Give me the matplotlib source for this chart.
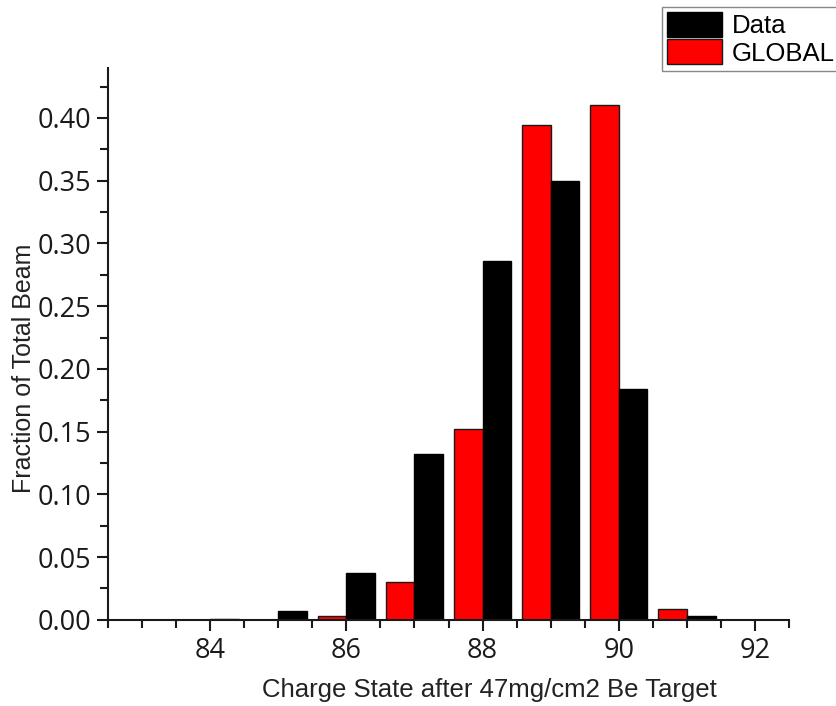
import matplotlib.pyplot as plt
from matplotlib.ticker import MultipleLocator, FormatStrFormatter

# --- datos ---
charge = [84, 85, 86, 87, 88, 89, 90, 91]
data_frac = [0.001, 0.007, 0.037, 0.132, 0.286, 0.350, 0.184, 0.003]
global_frac = [0.0, 0.0, 0.003, 0.030, 0.152, 0.394, 0.410, 0.009]

W = 0.42

fig = plt.figure(figsize=(8.36, 7.06), dpi=100)
ax = fig.add_axes([0.129, 0.122, 0.815, 0.782])

# rojo a la izquierda del entero, negro a la derecha
ax.bar(charge, global_frac, width=-W, align='edge', color='#ff0000',
       edgecolor='#1a1a1a', linewidth=1, label='GLOBAL')
ax.bar(charge, data_frac, width=W, align='edge', color='black',
       edgecolor='black', linewidth=1, label='Data')

ax.set_xlim(82.5, 92.5)
ax.set_ylim(0, 0.44)

ax.xaxis.set_major_locator(MultipleLocator(2))
ax.xaxis.set_minor_locator(MultipleLocator(0.5))
ax.yaxis.set_major_locator(MultipleLocator(0.05))
ax.yaxis.set_minor_locator(MultipleLocator(0.025))
ax.yaxis.set_major_formatter(FormatStrFormatter('%.2f'))

for s in ['top', 'right']:
    ax.spines[s].set_visible(False)
for s in ['left', 'bottom']:
    ax.spines[s].set_linewidth(1.5)
    ax.spines[s].set_color('#1a1a1a')

ax.tick_params(which='major', direction='out', length=8, width=1.5,
               labelsize=19.5, pad=4, colors='#1a1a1a')
ax.tick_params(which='minor', direction='out', length=6, width=1.5,
               colors='#1a1a1a')
for lab in ax.get_xticklabels() + ax.get_yticklabels():
    lab.set_family('Open Sans')

lab_font = dict(family='Liberation Sans', size=18, color='#222222')
fig.text(0.029, 0.478, 'Fraction of Total Beam', rotation=90,
         ha='center', va='center', **lab_font)
lab_font['size'] = 18.5
fig.text(0.585, 0.023, 'Charge State after 47mg/cm2 Be Target',
         ha='center', va='center', **lab_font)

h, l = ax.get_legend_handles_labels()
leg = fig.legend(h[::-1], l[::-1], loc='upper left',
                 bbox_to_anchor=(662 / 836, 1 - 7 / 706),
                 prop={'family': 'Liberation Sans', 'size': 18.5},
                 handlelength=2.15, handleheight=1.1, labelspacing=0.05,
                 handletextpad=0.35, borderpad=0.2, borderaxespad=0,
                 fancybox=False, framealpha=1, edgecolor='#888888')
leg.get_frame().set_linewidth(1)

fig.savefig('out.png', dpi=100)
